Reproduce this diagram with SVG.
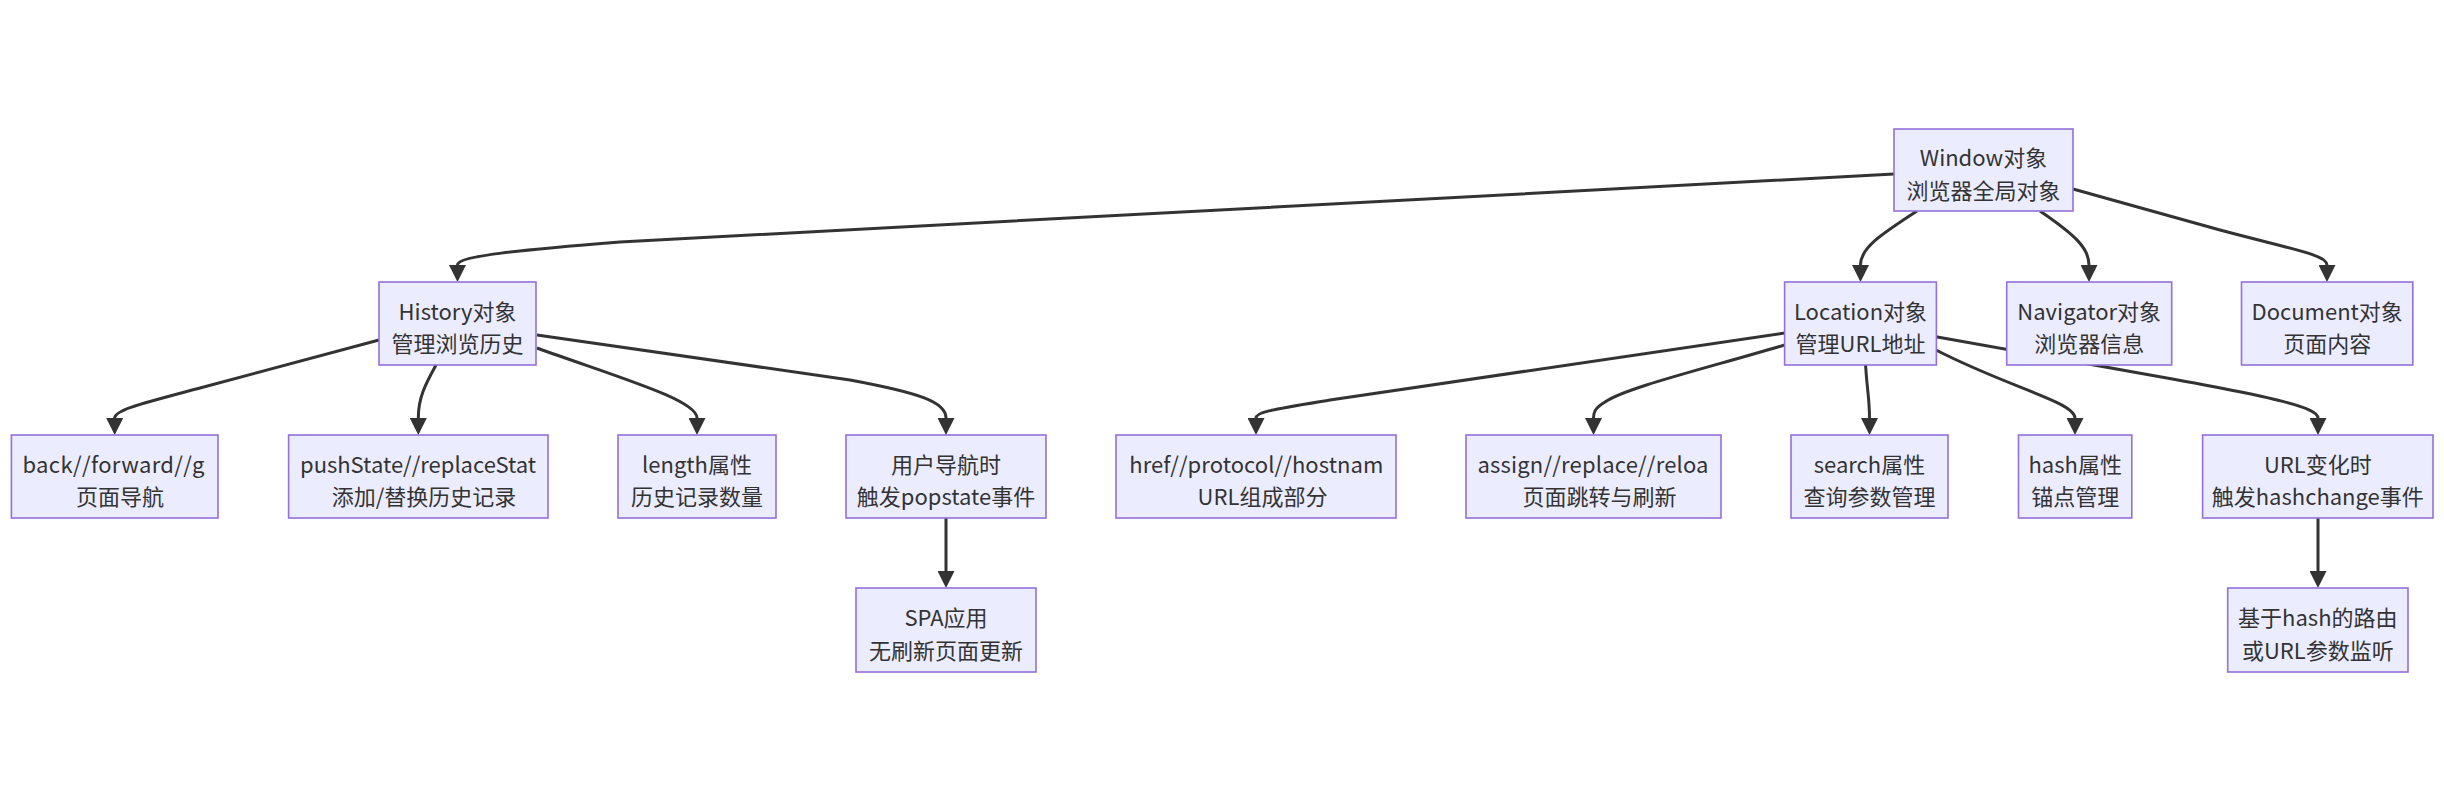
<svg xmlns="http://www.w3.org/2000/svg" width="2444" height="800" viewBox="0 0 2444 800">
<defs>
<style>
.node rect{fill:#ECECFF;stroke:#9370DB;stroke-width:1.6}
.node text{font-family:"Noto Sans CJK SC","Noto Sans",sans-serif;font-size:22px;fill:#333;text-anchor:middle;dominant-baseline:central}
.node text.l{text-anchor:start}
.edge{fill:none;stroke:#333;stroke-width:3;marker-end:url(#arr)}
</style>
<marker id="arr" markerUnits="userSpaceOnUse" markerWidth="17" markerHeight="17" viewBox="0 0 10 10" refX="0" refY="5" orient="auto">
<path d="M0,0 L10,5 L0,10 z" fill="#333"/>
</marker>
<clipPath id="cBack"><rect x="13" y="435" width="193" height="83"/></clipPath>
<clipPath id="cPush"><rect x="290" y="435" width="247" height="83"/></clipPath>
<clipPath id="cHref"><rect x="1118" y="435" width="267" height="83"/></clipPath>
<clipPath id="cAssign"><rect x="1468" y="435" width="242" height="83"/></clipPath>
</defs>
<rect width="2444" height="800" fill="#fff"/>
<g id="connectors">
<path class="edge" d="M1894,174 L620,242 C520,250 457.5,256 457.5,265"/>
<path class="edge" d="M1917,211 C1880,235 1860.5,248 1860.5,265"/>
<path class="edge" d="M2040,211 C2075,235 2089,248 2089,265"/>
<path class="edge" d="M2073,189 L2220,230 C2295,250 2327,255 2327,265"/>
<path class="edge" d="M379,340 L200,388 C140,404 114.7,410 114.7,418"/>
<path class="edge" d="M436,365 C425,385 418.3,398 418.3,418"/>
<path class="edge" d="M537,348 C620,378 697,400 697,418"/>
<path class="edge" d="M537,335 L850,380 C920,393 946,402 946,418"/>
<path class="edge" d="M946,518 L946,571"/>
<path class="edge" d="M1784.6,333 L1330,400 C1270,410 1256,412 1256,418"/>
<path class="edge" d="M1784.6,345 C1700,370 1625,388 1605,402 C1595,408 1593.5,412 1593.5,418"/>
<path class="edge" d="M1865.6,365 C1867,390 1869.5,398 1869.5,418"/>
<path class="edge" d="M1936,350 C2010,388 2075,402 2075,418"/>
<path class="edge" d="M1936,336.7 L2150,375 C2280,398 2318,408 2318,418"/>
<path class="edge" d="M2318,518 L2318,571"/>
</g>
<g id="n-window" class="node"><rect x="1894" y="129" width="179" height="82"/><text x="1983.5" y="156">Window对象</text><text x="1983.5" y="188.5">浏览器全局对象</text></g>
<g id="n-history" class="node"><rect x="379" y="282" width="157" height="83"/><text x="457.5" y="309.5">History对象</text><text x="457.5" y="342">管理浏览历史</text></g>
<g id="n-location" class="node"><rect x="1784.6" y="282" width="151.8" height="83"/><text x="1860.5" y="309.5">Location对象</text><text x="1860.5" y="342">管理URL地址</text></g>
<g id="n-navigator" class="node"><rect x="2006.7" y="282" width="165" height="83"/><text x="2089.2" y="309.5">Navigator对象</text><text x="2089.2" y="342">浏览器信息</text></g>
<g id="n-document" class="node"><rect x="2241.5" y="282" width="171.3" height="83"/><text x="2327.2" y="309.5">Document对象</text><text x="2327.2" y="342">页面内容</text></g>
<g id="n-back" class="node"><rect x="11.4" y="435" width="206.6" height="83"/><text class="l" x="22.5" y="462.5" textLength="182" lengthAdjust="spacing" clip-path="url(#cBack)">back//forward//g</text><text x="120" y="495">页面导航</text></g>
<g id="n-push" class="node"><rect x="288.6" y="435" width="259.4" height="83"/><text class="l" x="300" y="462.5" textLength="236" lengthAdjust="spacing" clip-path="url(#cPush)">pushState//replaceStat</text><text x="424" y="495">添加/替换历史记录</text></g>
<g id="n-length" class="node"><rect x="618" y="435" width="158" height="83"/><text x="697" y="462.5">length属性</text><text x="697" y="495">历史记录数量</text></g>
<g id="n-popstate" class="node"><rect x="846" y="435" width="200" height="83"/><text x="946" y="462.5">用户导航时</text><text x="946" y="495">触发popstate事件</text></g>
<g id="n-spa" class="node"><rect x="856" y="588" width="180" height="84"/><text x="946" y="616">SPA应用</text><text x="946" y="648.5">无刷新页面更新</text></g>
<g id="n-href" class="node"><rect x="1116" y="435" width="280" height="83"/><text class="l" x="1129.3" y="462.5" textLength="254" lengthAdjust="spacing" clip-path="url(#cHref)">href//protocol//hostnam</text><text x="1262.5" y="495">URL组成部分</text></g>
<g id="n-assign" class="node"><rect x="1466" y="435" width="255" height="83"/><text class="l" x="1477.5" y="462.5" textLength="231" lengthAdjust="spacing" clip-path="url(#cAssign)">assign//replace//reloa</text><text x="1599.5" y="495">页面跳转与刷新</text></g>
<g id="n-search" class="node"><rect x="1791" y="435" width="157" height="83"/><text x="1869.5" y="462.5">search属性</text><text x="1869.5" y="495">查询参数管理</text></g>
<g id="n-hash" class="node"><rect x="2018.5" y="435" width="113.3" height="83"/><text x="2075.2" y="462.5">hash属性</text><text x="2075.2" y="495">锚点管理</text></g>
<g id="n-hashchange" class="node"><rect x="2202.6" y="435" width="230.4" height="83"/><text x="2317.8" y="462.5">URL变化时</text><text x="2317.8" y="495">触发hashchange事件</text></g>
<g id="n-router" class="node"><rect x="2227.7" y="588" width="180.3" height="84"/><text x="2317.8" y="616">基于hash的路由</text><text x="2317.8" y="648.5">或URL参数监听</text></g>
</svg>
